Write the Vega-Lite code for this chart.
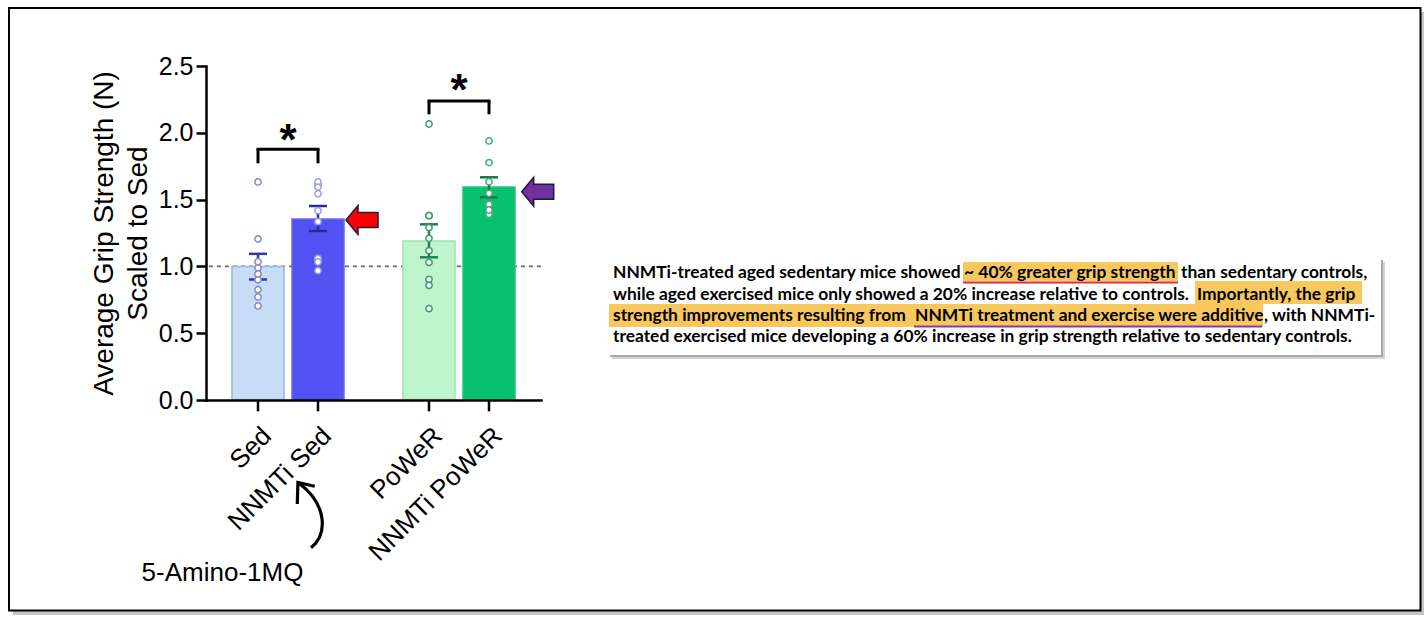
{
  "$schema": "https://vega.github.io/schema/vega-lite/v6.json",
  "width": 335,
  "height": 334,
  "padding": {"left": 7, "top": 7, "right": 0, "bottom": 0},
  "autosize": {"type": "pad"},
  "background": "white",
  "config": {"view": {"stroke": null}},
  "datasets": {
    "summary": [
      {"group": "Sed", "drug": "Vehicle", "label": "Sed", "mean": 1.0, "lo": 0.902, "hi": 1.094},
      {"group": "Sed", "drug": "NNMTi", "label": "NNMTi Sed", "mean": 1.355, "lo": 1.265, "hi": 1.452},
      {"group": "PoWeR", "drug": "Vehicle", "label": "PoWeR", "mean": 1.19, "lo": 1.068, "hi": 1.315},
      {"group": "PoWeR", "drug": "NNMTi", "label": "NNMTi PoWeR", "mean": 1.594, "lo": 1.517, "hi": 1.667}
    ],
    "comparisons": [
      {"group": "Sed", "bar": 1.8765, "leg": 1.7717, "star": 1.8338, "sig": "*"},
      {"group": "PoWeR", "bar": 2.238, "leg": 2.1385, "star": 2.2081, "sig": "*"}
    ],
    "points": [
      {"label": "Sed", "group": "Sed", "drug": "Vehicle", "value": 1.632, "col": 0},
      {"label": "Sed", "group": "Sed", "drug": "Vehicle", "value": 1.205, "col": 0},
      {"label": "Sed", "group": "Sed", "drug": "Vehicle", "value": 1.035, "col": 1},
      {"label": "Sed", "group": "Sed", "drug": "Vehicle", "value": 0.99, "col": -1},
      {"label": "Sed", "group": "Sed", "drug": "Vehicle", "value": 0.943, "col": 1},
      {"label": "Sed", "group": "Sed", "drug": "Vehicle", "value": 0.9, "col": 0},
      {"label": "Sed", "group": "Sed", "drug": "Vehicle", "value": 0.826, "col": -1},
      {"label": "Sed", "group": "Sed", "drug": "Vehicle", "value": 0.771, "col": 1},
      {"label": "Sed", "group": "Sed", "drug": "Vehicle", "value": 0.704, "col": 0},
      {"label": "NNMTi Sed", "group": "Sed", "drug": "NNMTi", "value": 1.609, "col": -2},
      {"label": "NNMTi Sed", "group": "Sed", "drug": "NNMTi", "value": 1.632, "col": 0},
      {"label": "NNMTi Sed", "group": "Sed", "drug": "NNMTi", "value": 1.594, "col": 2},
      {"label": "NNMTi Sed", "group": "Sed", "drug": "NNMTi", "value": 1.544, "col": 0},
      {"label": "NNMTi Sed", "group": "Sed", "drug": "NNMTi", "value": 1.417, "col": 0},
      {"label": "NNMTi Sed", "group": "Sed", "drug": "NNMTi", "value": 1.335, "col": 0},
      {"label": "NNMTi Sed", "group": "Sed", "drug": "NNMTi", "value": 1.06, "col": -1},
      {"label": "NNMTi Sed", "group": "Sed", "drug": "NNMTi", "value": 1.033, "col": 1},
      {"label": "NNMTi Sed", "group": "Sed", "drug": "NNMTi", "value": 0.968, "col": 0},
      {"label": "PoWeR", "group": "PoWeR", "drug": "Vehicle", "value": 2.066, "col": 0},
      {"label": "PoWeR", "group": "PoWeR", "drug": "Vehicle", "value": 1.38, "col": -1},
      {"label": "PoWeR", "group": "PoWeR", "drug": "Vehicle", "value": 1.38, "col": 1},
      {"label": "PoWeR", "group": "PoWeR", "drug": "Vehicle", "value": 1.29, "col": 0},
      {"label": "PoWeR", "group": "PoWeR", "drug": "Vehicle", "value": 1.21, "col": 0},
      {"label": "PoWeR", "group": "PoWeR", "drug": "Vehicle", "value": 1.118, "col": 0},
      {"label": "PoWeR", "group": "PoWeR", "drug": "Vehicle", "value": 1.03, "col": 0},
      {"label": "PoWeR", "group": "PoWeR", "drug": "Vehicle", "value": 0.903, "col": -1},
      {"label": "PoWeR", "group": "PoWeR", "drug": "Vehicle", "value": 0.858, "col": 1},
      {"label": "PoWeR", "group": "PoWeR", "drug": "Vehicle", "value": 0.684, "col": 0},
      {"label": "NNMTi PoWeR", "group": "PoWeR", "drug": "NNMTi", "value": 1.939, "col": 0},
      {"label": "NNMTi PoWeR", "group": "PoWeR", "drug": "NNMTi", "value": 1.777, "col": 0},
      {"label": "NNMTi PoWeR", "group": "PoWeR", "drug": "NNMTi", "value": 1.634, "col": 0},
      {"label": "NNMTi PoWeR", "group": "PoWeR", "drug": "NNMTi", "value": 1.547, "col": 0},
      {"label": "NNMTi PoWeR", "group": "PoWeR", "drug": "NNMTi", "value": 1.465, "col": -1},
      {"label": "NNMTi PoWeR", "group": "PoWeR", "drug": "NNMTi", "value": 1.422, "col": 1},
      {"label": "NNMTi PoWeR", "group": "PoWeR", "drug": "NNMTi", "value": 1.39, "col": -1}
    ]
  },
  "resolve": {"scale": {"x": "independent", "y": "independent"}, "axis": {"x": "independent", "y": "independent"}},
  "layer": [
    {
      "data": {"values": [{}]},
      "layer": [
        {"mark": {"type": "rect", "fill": "#c4c4c4"},
         "encoding": {"x": {"datum": -0.5761, "type": "quantitative", "scale": {"domain": [0, 1], "nice": false, "zero": false}, "axis": null}, "x2": {"datum": 3.6358},
                      "y": {"datum": 2.9042, "type": "quantitative", "scale": {"domain": [0, 2.5], "nice": false, "zero": false}, "axis": null}, "y2": {"datum": -1.6093}}},
        {"mark": {"type": "rect", "fill": "white", "stroke": "black", "strokeWidth": 2},
         "encoding": {"x": {"datum": -0.58806, "type": "quantitative", "axis": null}, "x2": {"datum": 3.62537},
                      "y": {"datum": 2.93413, "type": "quantitative", "axis": null}, "y2": {"datum": -1.5756}}},
        {"mark": {"type": "rule", "strokeDash": [4, 4], "color": "#6b6b6b", "strokeWidth": 1.7},
         "encoding": {"y": {"datum": 1, "type": "quantitative", "axis": null}}},
        {"mark": {"type": "rect", "fill": "#d4d4d4"},
         "encoding": {"x": {"datum": 1.21194, "type": "quantitative", "axis": null}, "x2": {"datum": 3.5194},
                      "y": {"datum": 1.03293, "type": "quantitative", "axis": null}, "y2": {"datum": 0.30689}}},
        {"mark": {"type": "rect", "fill": "#a8a8a8"},
         "encoding": {"x": {"datum": 1.20597, "type": "quantitative", "axis": null}, "x2": {"datum": 3.51343},
                      "y": {"datum": 1.0479, "type": "quantitative", "axis": null}, "y2": {"datum": 0.32186}}},
        {"mark": {"type": "rect", "fill": "white"},
         "encoding": {"x": {"datum": 1.2, "type": "quantitative", "axis": null}, "x2": {"datum": 3.50746},
                      "y": {"datum": 1.06287, "type": "quantitative", "axis": null}, "y2": {"datum": 0.33683}}},
        {"mark": {"type": "rect", "fill": "#f9c85c"},
         "encoding": {"x": {"datum": 2.2597, "type": "quantitative", "axis": null}, "x2": {"datum": 2.90149},
                      "y": {"datum": 1.03293, "type": "quantitative", "axis": null}, "y2": {"datum": 0.89072}}},
        {"mark": {"type": "rect", "fill": "#f9c85c"},
         "encoding": {"x": {"datum": 2.95224, "type": "quantitative", "axis": null}, "x2": {"datum": 3.45075},
                      "y": {"datum": 0.89072, "type": "quantitative", "axis": null}, "y2": {"datum": 0.71856}}},
        {"mark": {"type": "rect", "fill": "#f9c85c"},
         "encoding": {"x": {"datum": 1.20299, "type": "quantitative", "axis": null}, "x2": {"datum": 3.15522},
                      "y": {"datum": 0.71856, "type": "quantitative", "axis": null}, "y2": {"datum": 0.54641}}},
        {"mark": {"type": "rule", "color": "#e8262b", "strokeWidth": 2},
         "encoding": {"x": {"datum": 2.2597, "type": "quantitative", "axis": null}, "x2": {"datum": 2.90149},
                      "y": {"datum": 0.87949, "type": "quantitative", "axis": null}}},
        {"mark": {"type": "rule", "color": "#7b3fb0", "strokeWidth": 2},
         "encoding": {"x": {"datum": 2.11343, "type": "quantitative", "axis": null}, "x2": {"datum": 3.15224},
                      "y": {"datum": 0.55015, "type": "quantitative", "axis": null}}},
        {"mark": {"type": "text", "text": "NNMTi-treated aged sedentary mice showed", "align": "left", "baseline": "alphabetic", "font": "Lato", "fontWeight": "bold", "fontSize": 17.4, "color": "black"},
         "encoding": {"x": {"datum": 1.21493, "type": "quantitative", "axis": null}, "y": {"datum": 0.91542, "type": "quantitative", "axis": null}}},
        {"mark": {"type": "text", "text": "~ 40% greater grip strength", "align": "left", "baseline": "alphabetic", "font": "Lato", "fontWeight": "bold", "fontSize": 17.4, "color": "black"},
         "encoding": {"x": {"datum": 2.26269, "type": "quantitative", "axis": null}, "y": {"datum": 0.91542, "type": "quantitative", "axis": null}}},
        {"mark": {"type": "text", "text": "than sedentary controls,", "align": "left", "baseline": "alphabetic", "font": "Lato", "fontWeight": "bold", "fontSize": 17.4, "color": "black"},
         "encoding": {"x": {"datum": 2.91045, "type": "quantitative", "axis": null}, "y": {"datum": 0.91542, "type": "quantitative", "axis": null}}},
        {"mark": {"type": "text", "text": "while aged exercised mice only showed a 20% increase relative to controls.", "align": "left", "baseline": "alphabetic", "font": "Lato", "fontWeight": "bold", "fontSize": 17.4, "color": "black"},
         "encoding": {"x": {"datum": 1.21493, "type": "quantitative", "axis": null}, "y": {"datum": 0.7485, "type": "quantitative", "axis": null}}},
        {"mark": {"type": "text", "text": "Importantly, the grip", "align": "left", "baseline": "alphabetic", "font": "Lato", "fontWeight": "bold", "fontSize": 17.4, "color": "black"},
         "encoding": {"x": {"datum": 2.95821, "type": "quantitative", "axis": null}, "y": {"datum": 0.7485, "type": "quantitative", "axis": null}}},
        {"mark": {"type": "text", "text": "strength improvements resulting from", "align": "left", "baseline": "alphabetic", "font": "Lato", "fontWeight": "bold", "fontSize": 17.4, "color": "black"},
         "encoding": {"x": {"datum": 1.21493, "type": "quantitative", "axis": null}, "y": {"datum": 0.58907, "type": "quantitative", "axis": null}}},
        {"mark": {"type": "text", "text": "NNMTi treatment and exercise were additive", "align": "left", "baseline": "alphabetic", "font": "Lato", "fontWeight": "bold", "fontSize": 17.4, "color": "black"},
         "encoding": {"x": {"datum": 2.11642, "type": "quantitative", "axis": null}, "y": {"datum": 0.58907, "type": "quantitative", "axis": null}}},
        {"mark": {"type": "text", "text": ", with NNMTi-", "align": "left", "baseline": "alphabetic", "font": "Lato", "fontWeight": "bold", "fontSize": 17.4, "color": "black"},
         "encoding": {"x": {"datum": 3.15821, "type": "quantitative", "axis": null}, "y": {"datum": 0.58907, "type": "quantitative", "axis": null}}},
        {"mark": {"type": "text", "text": "treated exercised mice developing a 60% increase in grip strength relative to sedentary controls.", "align": "left", "baseline": "alphabetic", "font": "Lato", "fontWeight": "bold", "fontSize": 17.4, "color": "black"},
         "encoding": {"x": {"datum": 1.21493, "type": "quantitative", "axis": null}, "y": {"datum": 0.43039, "type": "quantitative", "axis": null}}},
        {"mark": {"type": "point", "shape": "M-1,0L-0.25,-0.9L-0.25,-0.47L1,-0.47L1,0.47L-0.25,0.47L-0.25,0.9Z", "size": 1024, "filled": true, "fill": "#ff0000", "stroke": "#1c1c3c", "strokeWidth": 1.5, "opacity": 1},
         "encoding": {"x": {"datum": 0.46567, "type": "quantitative", "axis": null}, "y": {"datum": 1.34731, "type": "quantitative", "axis": null}}},
        {"mark": {"type": "point", "shape": "M-1,0L-0.25,-0.9L-0.25,-0.47L1,-0.47L1,0.47L-0.25,0.47L-0.25,0.9Z", "size": 1024, "filled": true, "fill": "#7030a0", "stroke": "#1c1c3c", "strokeWidth": 1.5, "opacity": 1},
         "encoding": {"x": {"datum": 0.99015, "type": "quantitative", "axis": null}, "y": {"datum": 1.55913, "type": "quantitative", "axis": null}}},
        {"mark": {"type": "point", "shape": "M0.03,0.98C0.55,0.55,0.5,-0.35,-0.36,-0.97M-0.38,-0.33L-0.36,-0.97L0.14,-0.86", "size": 4489, "filled": false, "stroke": "black", "strokeWidth": 3.2, "opacity": 1},
         "encoding": {"x": {"datum": 0.31045, "type": "quantitative", "axis": null}, "y": {"datum": -0.86078, "type": "quantitative", "axis": null}}},
        {"mark": {"type": "text", "text": "5-Amino-1MQ", "align": "center", "baseline": "alphabetic", "font": "Liberation Sans", "fontSize": 26, "color": "black"},
         "encoding": {"x": {"datum": 0.04925, "type": "quantitative", "axis": null}, "y": {"datum": -1.35479, "type": "quantitative", "axis": null}}}
      ]
    },
    {
      "resolve": {"scale": {"fill": "independent", "stroke": "independent", "color": "independent"}},
      "layer": [
        {"data": {"name": "summary"},
         "mark": {"type": "bar", "strokeWidth": 1.5},
         "encoding": {
           "x": {"field": "group", "type": "nominal", "scale": {"domain": ["Sed", "PoWeR"], "paddingInner": 0.345, "paddingOuter": 0.152},
                 "axis": {"labels": false, "ticks": false, "title": null, "grid": false, "domainColor": "black", "domainWidth": 2.5, "domainCap": "square", "zindex": 1}},
           "xOffset": {"field": "drug", "type": "nominal", "scale": {"domain": ["Vehicle", "NNMTi"], "paddingInner": 0.1333, "paddingOuter": 0}},
           "y": {"field": "mean", "type": "quantitative", "scale": {"domain": [0, 2.5], "nice": false},
                 "axis": {"values": [0, 0.5, 1, 1.5, 2, 2.5], "format": ".1f", "grid": false, "title": ["Average Grip Strength (N)", "Scaled to Sed"], "zindex": 1,
                          "titleFont": "Liberation Sans", "titleFontSize": 28, "titleFontWeight": "normal", "titleColor": "black", "titlePadding": 6, "titleLineHeight": 34,
                          "labelFont": "Liberation Sans", "labelFontSize": 25, "labelColor": "black", "labelPadding": 3, "labelFlush": false, "labelOverlap": false,
                          "tickSize": 10, "tickWidth": 2.5, "tickColor": "black", "domainColor": "black", "domainWidth": 2.5, "domainCap": "square"}},
           "fill": {"field": "label", "type": "nominal", "scale": {"domain": ["Sed", "NNMTi Sed", "PoWeR", "NNMTi PoWeR"], "range": ["#c6dcf7", "#5252f2", "#bff5cd", "#07c16f"]}, "legend": null},
           "stroke": {"field": "label", "type": "nominal", "scale": {"domain": ["Sed", "NNMTi Sed", "PoWeR", "NNMTi PoWeR"], "range": ["#9bb5e3", "#6a6af0", "#9fe3b5", "#20c77d"]}, "legend": null}
         }},
        {"data": {"name": "summary"},
         "mark": {"type": "rule", "strokeWidth": 2.5},
         "encoding": {
           "x": {"field": "group", "type": "nominal"},
           "xOffset": {"field": "drug", "type": "nominal"},
           "y": {"field": "lo", "type": "quantitative"}, "y2": {"field": "hi"},
           "stroke": {"field": "label", "type": "nominal", "scale": {"domain": ["Sed", "NNMTi Sed", "PoWeR", "NNMTi PoWeR"], "range": ["#3434a4", "#2a2a92", "#1c8050", "#17774a"]}, "legend": null}
         }},
        {"data": {"name": "summary"},
         "mark": {"type": "tick", "size": 18, "thickness": 2.5, "opacity": 1},
         "encoding": {
           "x": {"field": "group", "type": "nominal"},
           "xOffset": {"field": "drug", "type": "nominal"},
           "y": {"field": "lo", "type": "quantitative"},
           "color": {"field": "label", "type": "nominal", "scale": {"domain": ["Sed", "NNMTi Sed", "PoWeR", "NNMTi PoWeR"], "range": ["#3434a4", "#2a2a92", "#1c8050", "#17774a"]}, "legend": null}
         }},
        {"data": {"name": "summary"},
         "mark": {"type": "tick", "size": 18, "thickness": 2.5, "opacity": 1},
         "encoding": {
           "x": {"field": "group", "type": "nominal"},
           "xOffset": {"field": "drug", "type": "nominal"},
           "y": {"field": "hi", "type": "quantitative"},
           "color": {"field": "label", "type": "nominal", "scale": {"domain": ["Sed", "NNMTi Sed", "PoWeR", "NNMTi PoWeR"], "range": ["#3434a4", "#2a2a92", "#1c8050", "#17774a"]}, "legend": null}
         }},
        {"data": {"name": "summary"},
         "mark": {"type": "rule", "strokeWidth": 2.5, "color": "black"},
         "encoding": {
           "x": {"field": "group", "type": "nominal"},
           "xOffset": {"field": "drug", "type": "nominal"},
           "y": {"datum": 0, "type": "quantitative"}, "y2": {"datum": -0.085}
         }},
        {"data": {"name": "summary"},
         "mark": {"type": "text", "angle": -45, "align": "right", "baseline": "top", "font": "Liberation Sans", "fontSize": 26, "color": "black"},
         "encoding": {
           "x": {"field": "group", "type": "nominal"},
           "xOffset": {"field": "drug", "type": "nominal"},
           "y": {"datum": -0.1699, "type": "quantitative"},
           "text": {"field": "label"}
         }},
        {"data": {"name": "points"}, "transform": [{"filter": "datum.col == -2"}],
         "mark": {"type": "point", "shape": "circle", "size": 40, "strokeWidth": 1.5, "fill": "white", "opacity": 1, "xOffset": -13.4},
         "encoding": {"x": {"field": "group", "type": "nominal"}, "xOffset": {"field": "drug", "type": "nominal"}, "y": {"field": "value", "type": "quantitative"},
           "stroke": {"field": "label", "type": "nominal", "scale": {"domain": ["Sed", "NNMTi Sed", "PoWeR", "NNMTi PoWeR"], "range": ["#8686cc", "#9c9ce4", "#3e9c6e", "#4aa87b"]}, "legend": null}}},
        {"data": {"name": "points"}, "transform": [{"filter": "datum.col == -1"}],
         "mark": {"type": "point", "shape": "circle", "size": 40, "strokeWidth": 1.5, "fill": "white", "opacity": 1, "xOffset": -6.7},
         "encoding": {"x": {"field": "group", "type": "nominal"}, "xOffset": {"field": "drug", "type": "nominal"}, "y": {"field": "value", "type": "quantitative"},
           "stroke": {"field": "label", "type": "nominal", "scale": {"domain": ["Sed", "NNMTi Sed", "PoWeR", "NNMTi PoWeR"], "range": ["#8686cc", "#9c9ce4", "#3e9c6e", "#4aa87b"]}, "legend": null}}},
        {"data": {"name": "points"}, "transform": [{"filter": "datum.col == 0"}],
         "mark": {"type": "point", "shape": "circle", "size": 40, "strokeWidth": 1.5, "fill": "white", "opacity": 1},
         "encoding": {"x": {"field": "group", "type": "nominal"}, "xOffset": {"field": "drug", "type": "nominal"}, "y": {"field": "value", "type": "quantitative"},
           "stroke": {"field": "label", "type": "nominal", "scale": {"domain": ["Sed", "NNMTi Sed", "PoWeR", "NNMTi PoWeR"], "range": ["#8686cc", "#9c9ce4", "#3e9c6e", "#4aa87b"]}, "legend": null}}},
        {"data": {"name": "points"}, "transform": [{"filter": "datum.col == 1"}],
         "mark": {"type": "point", "shape": "circle", "size": 40, "strokeWidth": 1.5, "fill": "white", "opacity": 1, "xOffset": 6.7},
         "encoding": {"x": {"field": "group", "type": "nominal"}, "xOffset": {"field": "drug", "type": "nominal"}, "y": {"field": "value", "type": "quantitative"},
           "stroke": {"field": "label", "type": "nominal", "scale": {"domain": ["Sed", "NNMTi Sed", "PoWeR", "NNMTi PoWeR"], "range": ["#8686cc", "#9c9ce4", "#3e9c6e", "#4aa87b"]}, "legend": null}}},
        {"data": {"name": "points"}, "transform": [{"filter": "datum.col == 2"}],
         "mark": {"type": "point", "shape": "circle", "size": 40, "strokeWidth": 1.5, "fill": "white", "opacity": 1, "xOffset": 13.4},
         "encoding": {"x": {"field": "group", "type": "nominal"}, "xOffset": {"field": "drug", "type": "nominal"}, "y": {"field": "value", "type": "quantitative"},
           "stroke": {"field": "label", "type": "nominal", "scale": {"domain": ["Sed", "NNMTi Sed", "PoWeR", "NNMTi PoWeR"], "range": ["#8686cc", "#9c9ce4", "#3e9c6e", "#4aa87b"]}, "legend": null}}},
        {"data": {"name": "summary"},
         "transform": [{"lookup": "group", "from": {"data": {"name": "comparisons"}, "key": "group", "fields": ["bar", "leg"]}}],
         "mark": {"type": "rule", "strokeWidth": 3, "color": "black"},
         "encoding": {"x": {"field": "group", "type": "nominal"}, "xOffset": {"field": "drug", "type": "nominal"},
                      "y": {"field": "leg", "type": "quantitative"}, "y2": {"field": "bar"}}},
        {"data": {"name": "comparisons"},
         "mark": {"type": "tick", "size": 63, "thickness": 3, "color": "black", "opacity": 1},
         "encoding": {"x": {"field": "group", "type": "nominal"}, "y": {"field": "bar", "type": "quantitative"}}},
        {"data": {"name": "comparisons"},
         "mark": {"type": "text", "align": "center", "baseline": "alphabetic", "font": "Liberation Sans", "fontWeight": "bold", "fontSize": 44, "color": "black"},
         "encoding": {"x": {"field": "group", "type": "nominal"}, "y": {"field": "star", "type": "quantitative"}, "text": {"field": "sig"}}}
      ]
    }
  ]
}
